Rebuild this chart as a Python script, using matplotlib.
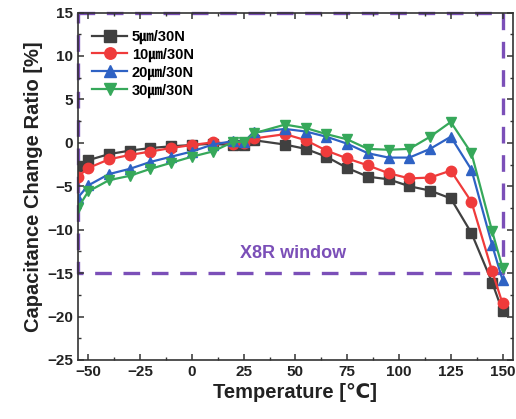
import matplotlib
matplotlib.use("Agg")
import matplotlib.pyplot as plt
from matplotlib.ticker import MultipleLocator

plt.rcParams['font.family'] = ['Liberation Sans', 'DejaVu Sans', 'Noto Sans CJK SC']
plt.rcParams['font.weight'] = 'bold'

temps = [-55, -50, -40, -30, -20, -10, 0, 10, 20, 25, 30, 45, 55, 65, 75,
         85, 95, 105, 115, 125, 135, 145, 150]

r_5um = [-2.7, -2.0, -1.3, -0.9, -0.6, -0.4, -0.25, -0.1, -0.3, -0.3, 0.3, -0.2, -0.7,
         -1.6, -2.9, -3.9, -4.2, -5.0, -5.5, -6.4, -10.4, -16.1, -19.4]
r_10um = [-3.9, -2.9, -1.9, -1.4, -1.0, -0.6, -0.25, 0.05, -0.1, 0.0, 0.5, 1.0, 0.3,
          -0.9, -1.8, -2.6, -3.5, -4.1, -4.0, -3.2, -6.8, -14.8, -18.5]
r_20um = [-6.3, -4.9, -3.6, -3.0, -2.2, -1.6, -1.0, -0.2, 0.2, 0.1, 1.2, 1.6, 1.3,
          0.7, -0.1, -1.2, -1.7, -1.7, -0.7, 0.7, -3.1, -11.8, -15.8]
r_30um = [-7.5, -5.6, -4.3, -3.8, -3.0, -2.3, -1.6, -1.0, 0.1, 0.1, 1.1, 2.1, 1.7,
          1.0, 0.4, -0.7, -0.8, -0.7, 0.7, 2.4, -1.2, -10.2, -14.4]

labels = ['5㎛/30N', '10㎛/30N', '20㎛/30N', '30㎛/30N']
colors = ['#404040', '#ef3b3b', '#2e62c4', '#36a85a']
markers = ['s', 'o', '^', 'v']

fig = plt.figure(figsize=(5.16, 4.19), dpi=100)
ax = fig.add_axes([0.151, 0.141, 0.843, 0.829])

for ys, lab, c, m in zip([r_5um, r_10um, r_20um, r_30um], labels, colors, markers):
    ax.plot(temps, ys, color=c, marker=m, markersize=7.5, linewidth=1.6, label=lab)

# X8R window
purple = '#7b4fb8'
win_x = [-55, 150, 150, -55, -55]
win_y = [15, 15, -15, -15, 15]
ax.plot(win_x, win_y, color=purple, linewidth=2.4, linestyle=(0, (5, 3.5)),
        clip_on=False, zorder=1)
ax.text(49, -12.8, 'X8R window', color=purple, fontsize=13, fontweight='bold',
        ha='center', va='center')

ax.set_xlim(-55, 155)
ax.set_ylim(-25, 15)
ax.xaxis.set_major_locator(MultipleLocator(25))
ax.xaxis.set_minor_locator(MultipleLocator(12.5))
ax.yaxis.set_major_locator(MultipleLocator(5))
ax.yaxis.set_minor_locator(MultipleLocator(2.5))
ax.tick_params(which='both', direction='in', top=True, right=True, colors='#333333',
               labelcolor='#222222', labelsize=11)
ax.tick_params(which='major', length=4.5, width=1.1)
ax.tick_params(which='minor', length=2.5, width=1.0)
for lbl in ax.get_xticklabels() + ax.get_yticklabels():
    lbl.set_fontweight('bold')
for sp in ax.spines.values():
    sp.set_color('#333333')
    sp.set_linewidth(1.2)

ax.set_xlabel('Temperature [℃]', fontsize=14.5, fontweight='bold', color='#222222', labelpad=3)
ax.set_ylabel('Capacitance Change Ratio [%]', fontsize=14.5, fontweight='bold',
              color='#222222', labelpad=3)

ax.legend(loc='upper left', bbox_to_anchor=(0.01, 0.98), frameon=False, fontsize=10.5,
          handlelength=2.4, handletextpad=0.3, labelspacing=0.25, borderaxespad=0.3,
          markerscale=1.1)

fig.savefig('out.png', dpi=100)
